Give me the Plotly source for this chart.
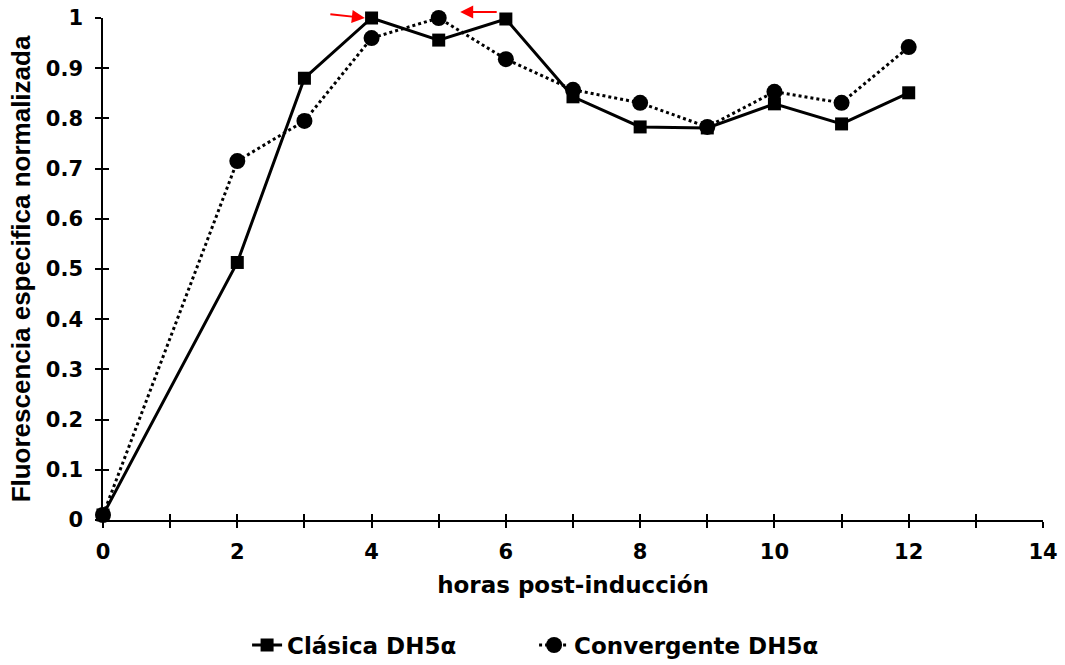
import plotly.graph_objects as go

horas = [0, 2, 3, 4, 5, 6, 7, 8, 9, 10, 11, 12]
clasica = [0.01, 0.513, 0.880, 1.0, 0.956, 0.998, 0.843, 0.783, 0.781, 0.829, 0.789, 0.851]
convergente = [0.01, 0.715, 0.795, 0.960, 1.0, 0.918, 0.857, 0.831, 0.783, 0.853, 0.831, 0.942]

x_ticks = list(range(0, 15))
x_labels = [str(v) if v % 2 == 0 else "" for v in x_ticks]
y_ticks = [round(i * 0.1, 1) for i in range(11)]
y_labels = ["0", "0.1", "0.2", "0.3", "0.4", "0.5", "0.6", "0.7", "0.8", "0.9", "1"]

WIDE = "DejaVu Sans, sans-serif"
NARROW = "Liberation Sans, Arial, sans-serif"

fig = go.Figure()
fig.add_trace(go.Scatter(
    x=horas, y=clasica, name="Clásica DH5α", mode="lines+markers",
    line=dict(color="black", width=3, dash="solid"),
    marker=dict(symbol="square", size=13, color="black"),
    cliponaxis=False,
))
fig.add_trace(go.Scatter(
    x=horas, y=convergente, name="Convergente DH5α", mode="lines+markers",
    line=dict(color="black", width=3, dash="dot"),
    marker=dict(symbol="circle", size=16, color="black"),
    cliponaxis=False,
))
# invisible trace carrying the overlay axes used for the inner half of the ticks
fig.add_trace(go.Scatter(x=[0], y=[0], xaxis="x2", yaxis="y2", mode="markers",
                         marker=dict(opacity=0), showlegend=False, hoverinfo="skip"))

axis_common = dict(showgrid=False, zeroline=False, showline=True, linecolor="black",
                   linewidth=1.5, ticks="outside", ticklen=6, tickwidth=1.5, tickcolor="black",
                   automargin=False,
                   tickfont=dict(family=WIDE, size=21, color="black", weight="bold"))

fig.update_layout(
    width=1065, height=665,
    margin=dict(l=103, r=22, t=18, b=145),
    plot_bgcolor="white", paper_bgcolor="white",
    font=dict(family=WIDE, color="black"),
    xaxis=dict(range=[0, 14], tickmode="array", tickvals=x_ticks, ticktext=x_labels,
               ticklabelstandoff=6,
               title=dict(text="horas post-inducción", standoff=14,
                          font=dict(family=WIDE, size=23, weight="bold")),
               **axis_common),
    yaxis=dict(range=[0, 1], tickmode="array", tickvals=y_ticks, ticktext=y_labels,
               ticklabelstandoff=8,
               title=dict(text="Fluorescencia especifica normalizada", standoff=8,
                          font=dict(family=NARROW, size=26, weight="bold")),
               **axis_common),
    xaxis2=dict(overlaying="x", matches="x", range=[0, 14], side="bottom", showgrid=False,
                zeroline=False, showline=False, ticks="inside", ticklen=6, tickwidth=1.5,
                tickcolor="black", tickmode="array", tickvals=x_ticks, showticklabels=False),
    yaxis2=dict(overlaying="y", matches="y", range=[0, 1], side="left", showgrid=False,
                zeroline=False, showline=False, ticks="inside", ticklen=6, tickwidth=1.5,
                tickcolor="black", tickmode="array", tickvals=y_ticks, showticklabels=False),
    legend=dict(orientation="h", xref="container", x=0.232, xanchor="left",
                yref="container", y=0.03, yanchor="middle", traceorder="normal",
                entrywidth=242, entrywidthmode="pixels",
                font=dict(family=WIDE, size=23, color="black", weight="bold")),
    showlegend=True,
)

# red arrows pointing at the two maxima
fig.add_annotation(x=3.9, y=1.0, xref="x", yref="y", ax=-36, ay=-4, axref="pixel", ayref="pixel",
                   showarrow=True, arrowhead=2, arrowsize=1.3, arrowwidth=2, arrowcolor="red",
                   text="")
fig.add_annotation(x=5.32, y=1.0, xref="x", yref="y", ax=38, ay=0, axref="pixel", ayref="pixel",
                   yshift=6, showarrow=True, arrowhead=2, arrowsize=1.3, arrowwidth=2,
                   arrowcolor="red", text="")

fig.write_html("out.html")
